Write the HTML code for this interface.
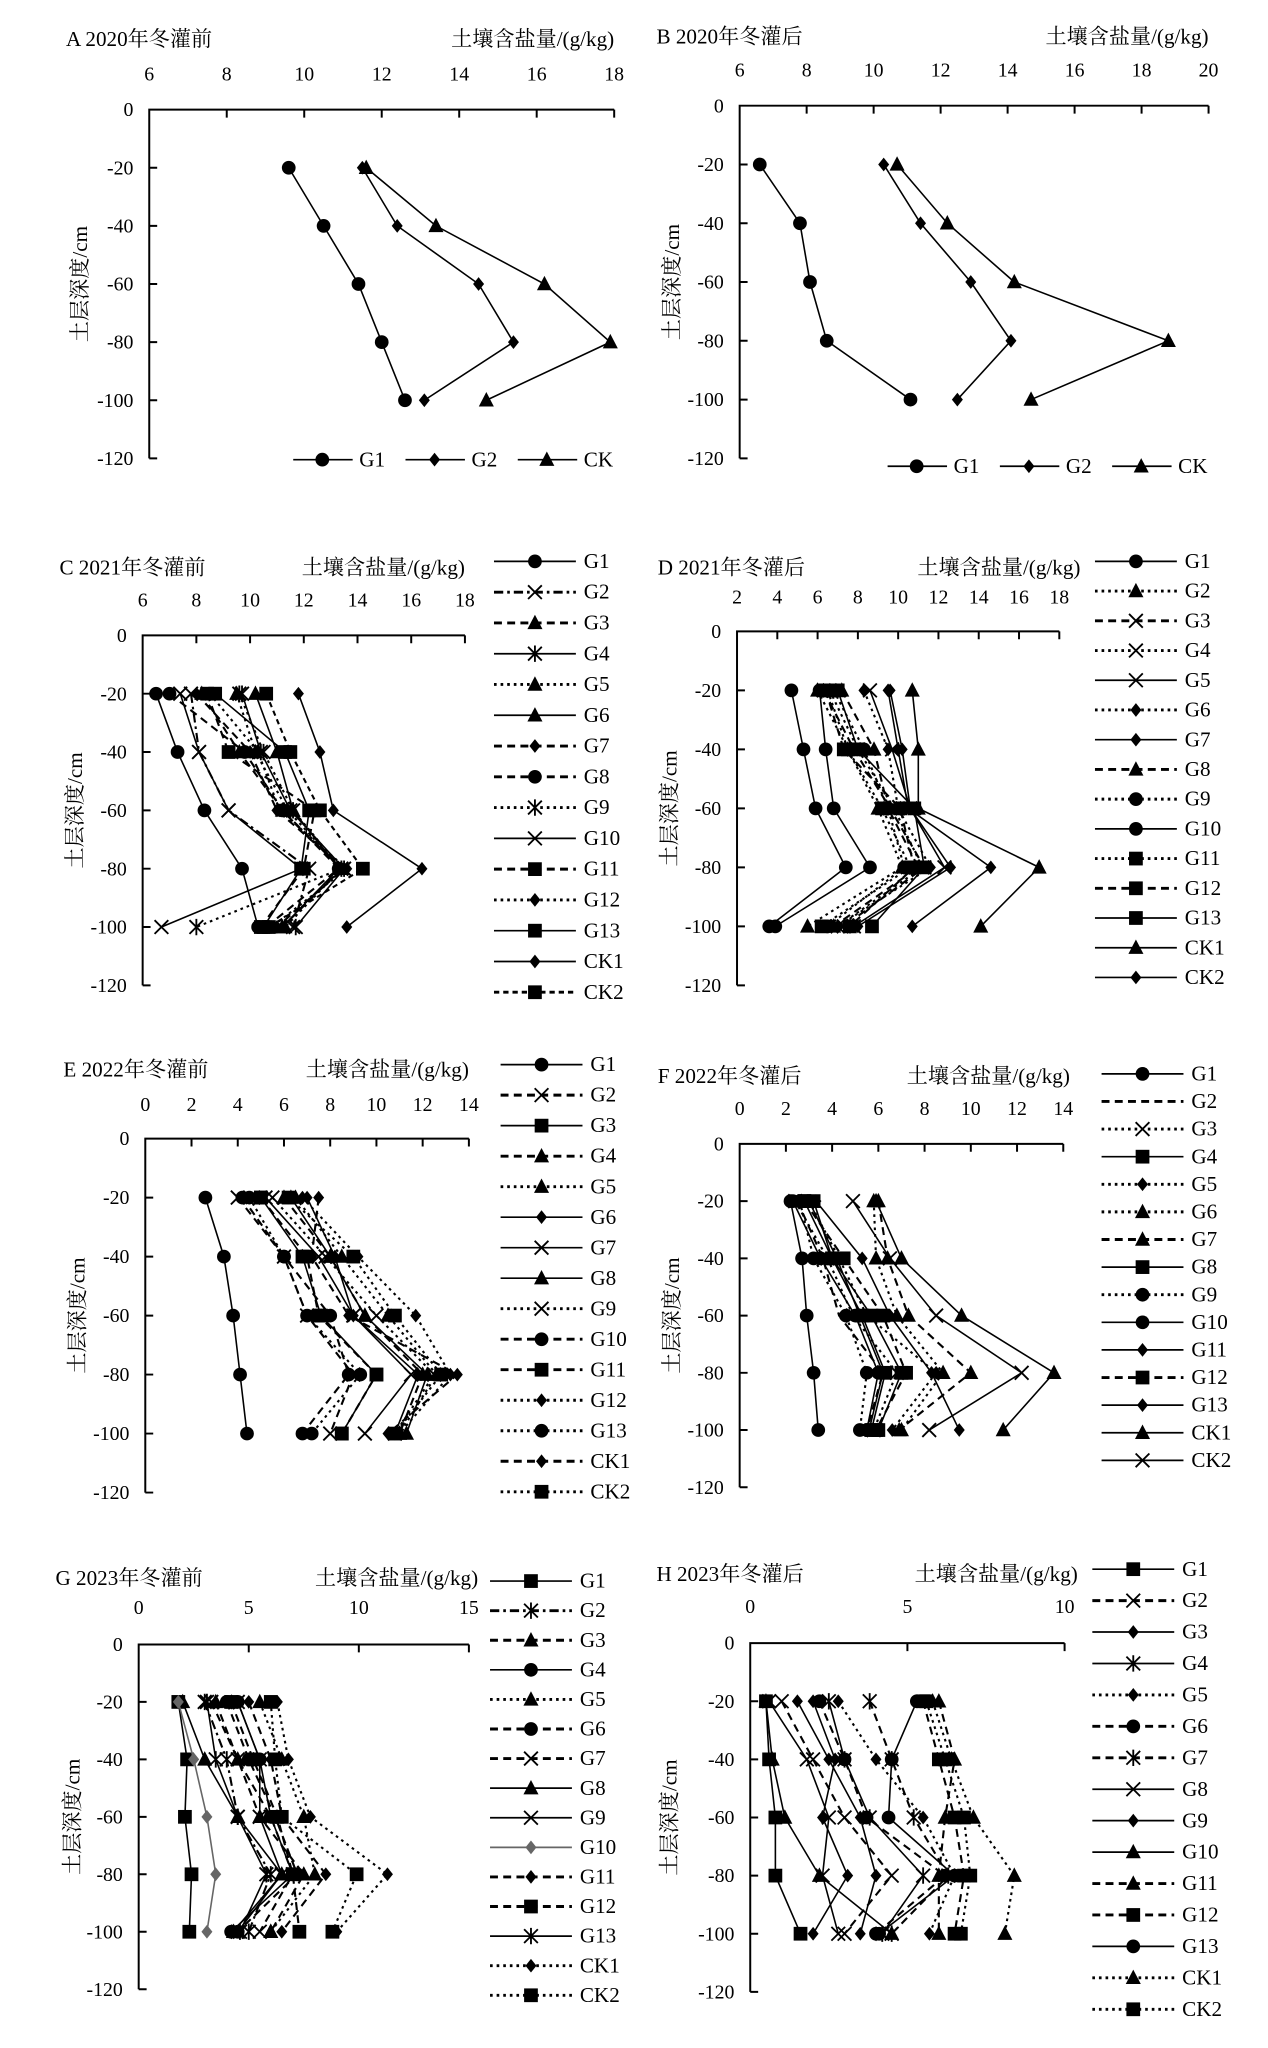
<!DOCTYPE html>
<html><head><meta charset="utf-8"><style>
html,body{margin:0;padding:0;background:#fff;}
svg{display:block;}
text{font-family:"Liberation Serif","Noto Serif CJK SC",serif;fill:#000;}
</style></head><body>
<svg id="fig" width="1268" height="2048" viewBox="0 0 960 1550.5" xmlns="http://www.w3.org/2000/svg"></svg>
<script>
const depths=[-20,-40,-60,-80,-100];
const yTicks=[0,-20,-40,-60,-80,-100,-120];
const names15=["G1","G2","G3","G4","G5","G6","G7","G8","G9","G10","G11","G12","G13","CK1","CK2"];
const namesA=["G1","G2","CK"];
const dataA=[[9.6,10.5,11.4,12,12.6],[11.5,12.4,14.5,15.4,13.1],[11.6,13.4,16.2,17.9,14.7]];
const dataB=[[6.6,7.8,8.1,8.6,11.1],[10.3,11.4,12.9,14.1,12.5],[10.7,12.2,14.2,18.8,14.7]];
const dataC=[[6.5,7.3,8.3,9.7,10.3],[7.8,8.1,9.2,12.2,11.6],[8.2,9.6,11.2,13.4,11.2],[9.7,10.4,11.5,13.5,11.7],[9.5,10.2,11.4,13.4,11.3],[10.2,11.0,11.6,13.3,11.2],[8.0,10.0,11.0,13.5,11.0],[7.0,9.8,11.2,13.3,10.6],[9.6,10.5,11.6,13.4,8.0],[7.4,8.1,9.2,11.9,6.7],[8.4,9.2,12.4,12.0,10.4],[8.5,10.3,11.1,13.6,10.8],[8.7,11.3,12.2,11.9,10.5],[11.8,12.6,13.1,16.4,13.6],[10.6,11.5,12.6,14.2,10.7]];
const dataD=[[4.7,5.3,5.9,7.4,3.6],[6.0,7.5,9.0,10.2,5.5],[6.3,7.8,9.6,11.3,7.3],[6.6,8.0,9.8,11.2,7.0],[8.6,9.7,10.6,12.3,7.8],[8.3,9.5,10.0,11.6,7.0],[9.6,10.2,10.6,12.6,8.0],[7.2,8.8,9.5,11.0,6.8],[6.8,8.3,9.5,10.3,6.5],[6.1,6.4,6.8,8.6,3.9],[6.5,7.5,9.2,10.6,6.2],[6.4,7.3,10.1,10.8,7.6],[7.0,8.0,10.8,11.3,8.7],[10.7,11.0,11.0,17.0,14.1],[9.5,10.0,10.5,14.6,10.7]];
const dataE=[[2.6,3.4,3.8,4.1,4.4],[4.0,6.0,7.0,9.0,8.0],[5.0,6.8,7.6,10.0,8.5],[6.0,8.0,9.5,12.0,11.0],[6.5,8.5,10.5,12.6,11.0],[7.0,8.2,9.0,11.8,10.8],[5.2,7.5,9.0,11.5,9.5],[6.3,8.0,9.5,12.2,11.3],[5.5,7.8,10.0,12.5,10.8],[4.2,6.0,8.0,8.8,6.8],[5.0,7.0,7.5,10.0,8.5],[6.8,9.2,11.7,13.2,11.0],[4.5,6.0,7.0,9.3,7.2],[7.5,7.2,8.8,13.5,10.5],[6.2,9.0,10.8,12.8,10.8]];
const dataF=[[2.2,2.7,2.9,3.2,3.4],[2.5,3.6,4.3,6.2,5.5],[2.4,3.8,4.9,6.8,5.8],[2.8,4.0,5.7,7.0,6.0],[3.0,4.3,5.5,8.5,6.6],[5.8,5.9,6.8,8.8,7.0],[6.0,6.4,7.3,10.0,6.9],[3.2,4.0,5.3,6.3,5.7],[2.6,3.2,4.6,5.5,5.2],[2.3,3.5,5.0,6.0,5.5],[3.0,4.2,5.2,6.2,5.6],[2.8,4.5,6.2,7.2,5.9],[3.3,5.3,6.5,8.3,9.5],[5.9,7.0,9.6,13.6,11.4],[4.9,6.5,8.5,12.2,8.2]];
const dataG=[[1.8,2.2,2.1,2.4,2.3],[3.0,4.0,4.5,6.0,5.0],[3.5,4.5,5.5,7.5,6.0],[4.5,5.5,6.0,7.0,4.2],[5.5,6.5,7.5,8.0,6.0],[4.0,5.0,6.2,7.2,4.5],[3.3,4.5,6.0,7.0,5.5],[2.0,3.0,4.5,6.5,4.3],[4.5,5.5,5.5,6.5,4.5],[1.8,2.5,3.1,3.5,3.1],[5.0,6.0,6.5,8.5,6.5],[4.2,5.2,6.3,7.0,7.3],[3.1,3.5,4.5,5.8,4.6],[6.3,6.8,7.8,11.3,9.0],[6.0,6.2,6.5,9.9,8.8]];
const dataH=[[0.5,0.6,0.8,0.8,1.6],[1.0,2.0,3.0,4.5,3.0],[1.5,2.5,3.5,4.0,3.5],[2.5,3.0,3.8,5.5,4.2],[2.8,4.0,5.5,6.5,5.7],[2.2,3.0,3.7,6.2,4.0],[3.8,4.5,5.2,6.3,4.5],[0.6,1.8,2.5,2.3,2.8],[2.0,2.7,2.3,3.1,2.0],[0.5,0.7,1.1,2.2,4.5],[6.0,6.5,6.2,6.0,6.0],[5.5,6.0,6.5,6.8,6.5],[5.3,4.5,4.4,6.5,4.1],[5.8,6.4,7.1,8.4,8.1],[5.6,6.2,6.8,7.0,6.7]];
const xTicksA=[6,8,10,12,14,16,18];
const xTicksB=[6,8,10,12,14,16,18,20];
const xTicksD=[2,4,6,8,10,12,14,16,18];
const xTicksE=[0,2,4,6,8,10,12,14];
const xTicksG=[0,5,10,15];
const xTicksH=[0,5,10];

const S="solid",DA="6,4",DO="2,3",DD="7,3,2,3";
const stylesA=[["circle",S],["diamond",S],["triangle",S]];
const stylesC=[["circle",S],["x",DD],["triangle",DA],["asterisk",S],["triangle",DO],["triangle",S],["diamond",DA],["circle",DA],["asterisk",DO],["x",S],["square",DA],["diamond",DO],["square",S],["diamond",S],["square","4,3"]];
const stylesD=[["circle",S],["triangle",DO],["x",DA],["x",DO],["x",S],["diamond",DO],["diamond",S],["triangle",DA],["circle",DO],["circle",S],["square",DO],["square",DA],["square",S],["triangle",S],["diamond",S]];
const stylesE=[["circle",S],["x",DA],["square",S],["triangle",DA],["triangle",DO],["diamond",S],["x",S],["triangle",S],["x",DO],["circle",DA],["square",DA],["diamond",DO],["circle",DO],["diamond",DA],["square",DO]];
const stylesF=[["circle",S],["none",DA],["x",DO],["square",S],["diamond",DO],["triangle",DO],["triangle",DA],["square",S],["circle",DO],["circle",S],["diamond",S],["square",DA],["diamond",S],["triangle",S],["x",S]];
const stylesG=[["square",S],["asterisk",DD],["triangle",DA],["circle",S],["triangle",DO],["circle",DA],["x",DA],["triangle",S],["x",S],["diamond",S,"#666"],["diamond",DA],["square",DA],["asterisk",S],["diamond",DO],["square",DO]];
const stylesH=[["square",S],["x",DA],["diamond",S],["asterisk",S],["diamond",DO],["circle",DA],["asterisk",DA],["x",S],["diamond",S],["triangle",S],["triangle",DA],["square",DA],["circle",S],["triangle",DO],["square",DO]];

const NS="http://www.w3.org/2000/svg";
const svg=document.getElementById("fig");
function mk(tag,parent){const e=document.createElementNS(NS,tag);parent.appendChild(e);return e;}
function txt(parent,x,y,s,size,anchor){const t=mk("text",parent);t.setAttribute("x",x);t.setAttribute("y",y);t.setAttribute("font-size",size);t.setAttribute("text-anchor",anchor||"start");t.textContent=s;return t;}
function marker(parent,type,cx,cy,col){
  const r=5.2;let e;
  if(type==="none")return;
  if(type==="circle"){e=mk("circle",parent);e.setAttribute("cx",cx);e.setAttribute("cy",cy);e.setAttribute("r",r);e.setAttribute("fill",col);}
  else if(type==="square"){e=mk("rect",parent);e.setAttribute("x",cx-r);e.setAttribute("y",cy-r);e.setAttribute("width",2*r);e.setAttribute("height",2*r);e.setAttribute("fill",col);}
  else if(type==="diamond"){e=mk("polygon",parent);e.setAttribute("points",`${cx},${cy-r} ${cx+r*0.8},${cy} ${cx},${cy+r} ${cx-r*0.8},${cy}`);e.setAttribute("fill",col);}
  else if(type==="triangle"){e=mk("polygon",parent);e.setAttribute("points",`${cx},${cy-r-1} ${cx+r+0.5},${cy+r-0.5} ${cx-r-0.5},${cy+r-0.5}`);e.setAttribute("fill",col);}
  else{e=mk("path",parent);let d=`M${cx-r},${cy-r}L${cx+r},${cy+r}M${cx-r},${cy+r}L${cx+r},${cy-r}`;if(type==="asterisk")d+=`M${cx},${cy-r-1}L${cx},${cy+r+1}`;e.setAttribute("d",d);e.setAttribute("stroke",col);e.setAttribute("stroke-width",1.4);e.setAttribute("fill","none");}
  
  
}
function panel(p){
  const g=mk("g",svg);
  
  
  const xs=v=>p.x0+(v-p.min)/(p.max-p.min)*(p.x1-p.x0);
  const ys=v=>p.y0+(0-v)/120*(p.y1-p.y0);
  const t=txt(g,p.tx,p.ty,p.title,16);
  
  const at=txt(g,p.atx||p.x1,p.ty,"土壤含盐量/(g/kg)",16,"end");
  
  const yl=txt(g,0,0,"土层深度/cm",16,"middle");
  yl.setAttribute("transform",`translate(${p.ylx},${(p.y0+p.y1)/2}) rotate(-90)`);
  yl.setAttribute("fill","#6a6a6a");
  
  const ax=mk("path",g);
  let d=`M${p.x0},${p.y1+0}L${p.x0},${p.y0}L${p.x1},${p.y0}`;
  p.ticks.forEach(v=>{d+=`M${xs(v)},${p.y0}L${xs(v)},${p.y0+6}`;});
  yTicks.forEach(v=>{d+=`M${p.x0},${ys(v)}L${p.x0+6},${ys(v)}`;});
  ax.setAttribute("d",d);ax.setAttribute("stroke","#000");ax.setAttribute("stroke-width",1.5);ax.setAttribute("fill","none");
  
  p.ticks.forEach(v=>{const e=txt(g,xs(v),p.tly,String(v),15,"middle");
    });
  yTicks.forEach(v=>{const e=txt(g,p.x0-12,ys(v)+5,String(v),15,"end");
    });
  p.data.forEach((vals,i)=>{
    const st=p.styles[i];const col=st[2]||"#000";
    const sg=mk("g",g);
    
    
    const pl=mk("polyline",sg);
    pl.setAttribute("points",vals.map((v,j)=>xs(v)+","+ys(depths[j])).join(" "));
    pl.setAttribute("fill","none");pl.setAttribute("stroke",col);pl.setAttribute("stroke-width",st[1]===S?1.2:1.6);
    if(st[1]!==S)pl.setAttribute("stroke-dasharray",st[1]);
    
    vals.forEach((v,j)=>marker(sg,st[0],xs(v),ys(depths[j]),col));
    // legend
    const lg=mk("g",g);
    
    
    let lx,ly;
    if(p.horiz){lx=p.lx+i*p.lstep;ly=p.ly;}else{lx=p.lx;ly=p.ly+i*p.lstep;}
    const ll=mk("line",lg);
    ll.setAttribute("x1",lx);ll.setAttribute("x2",lx+(p.horiz?45:62));ll.setAttribute("y1",ly);ll.setAttribute("y2",ly);
    ll.setAttribute("stroke",col);ll.setAttribute("stroke-width",st[1]===S?1.3:2.2);
    if(st[1]!==S)ll.setAttribute("stroke-dasharray",st[1]);
    marker(lg,st[0],lx+(p.horiz?22:31),ly,col);
    txt(lg,lx+(p.horiz?50:68),ly+5,p.names[i],16);
  });
}
panel({id:"a",title:"A 2020年冬灌前",tx:50,ty:35,tly:61,x0:113,x1:465,min:6,max:18,ticks:xTicksA,y0:83,y1:347,ylx:66,data:dataA,names:namesA,styles:stylesA,horiz:true,lx:222,ly:348,lstep:85});
panel({id:"b",title:"B 2020年冬灌后",tx:497,ty:33,tly:58,x0:560,x1:915,min:6,max:20,ticks:xTicksB,y0:80,y1:347,ylx:514,data:dataB,names:namesA,styles:stylesA,horiz:true,lx:672,ly:353,lstep:85});
panel({id:"c",title:"C 2021年冬灌前",tx:45,ty:435,tly:459,x0:108,x1:352,min:6,max:18,ticks:xTicksA,y0:481,y1:746,ylx:62,data:dataC,names:names15,styles:stylesC,lx:374,ly:425,lstep:23.3});
panel({id:"d",title:"D 2021年冬灌后",tx:498,ty:435,tly:457,x0:558,x1:802,min:2,max:18,ticks:xTicksD,y0:478,y1:746,ylx:512,atx:818,data:dataD,names:names15,styles:stylesD,lx:829,ly:425,lstep:22.5});
panel({id:"e",title:"E 2022年冬灌前",tx:48,ty:815,tly:841,x0:110,x1:355,min:0,max:14,ticks:xTicksE,y0:862,y1:1130,ylx:64,data:dataE,names:names15,styles:stylesE,lx:379,ly:806,lstep:23.1});
panel({id:"f",title:"F 2022年冬灌后",tx:498,ty:820,tly:844,x0:560,x1:805,min:0,max:14,ticks:xTicksE,y0:866,y1:1126,ylx:514,atx:810,data:dataF,names:names15,styles:stylesF,lx:834,ly:813,lstep:20.9});
panel({id:"g",title:"G 2023年冬灌前",tx:42,ty:1200,tly:1222,x0:105,x1:355,min:0,max:15,ticks:xTicksG,y0:1245,y1:1506,ylx:60,atx:362,data:dataG,names:names15,styles:stylesG,lx:371,ly:1197,lstep:22.4});
panel({id:"h",title:"H 2023年冬灌后",tx:497,ty:1197,tly:1221,x0:568,x1:806,min:0,max:10,ticks:xTicksH,y0:1244,y1:1508,ylx:512,atx:816,data:dataH,names:names15,styles:stylesH,lx:827,ly:1188,lstep:23.8});
</script>
</body></html>
